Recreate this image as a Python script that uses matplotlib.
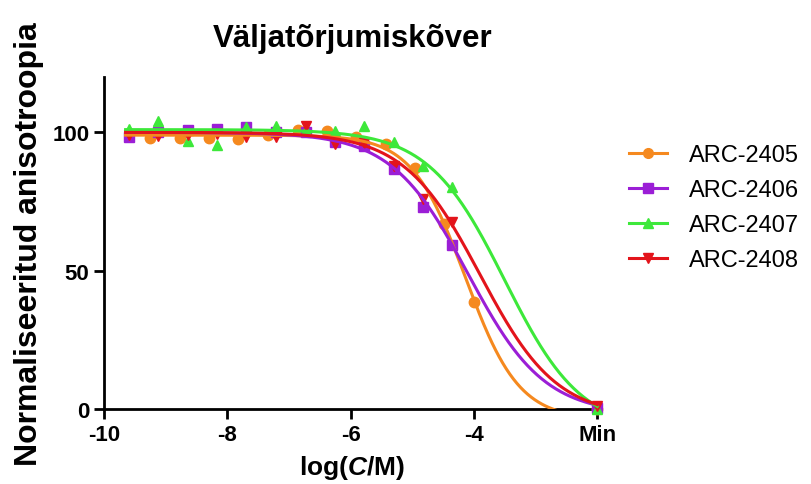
import numpy as np
import matplotlib
matplotlib.use('Agg')
import matplotlib.pyplot as plt

plt.rcParams['font.family'] = ['Liberation Sans', 'DejaVu Sans']
plt.rcParams['mathtext.fontset'] = 'custom'
plt.rcParams['mathtext.rm'] = 'Liberation Sans:bold'
plt.rcParams['mathtext.it'] = 'Liberation Sans:italic:bold'

# concentrations, log(C/M); the last point is the "Min" (no ligand) sample
x_orange = [-9.25, -8.77, -8.29, -7.82, -7.34, -6.86, -6.39, -5.91, -5.43, -4.95, -4.48, -4.00, -2.0]
x_other = [-9.59, -9.12, -8.64, -8.16, -7.69, -7.21, -6.73, -6.25, -5.78, -5.30, -4.83, -4.35, -2.0]

y_2405 = [97.8, 97.8, 97.8, 97.6, 99.0, 100.8, 100.6, 98.5, 95.8, 87.0, 67.0, 38.8, 0.0]
y_2406 = [98.4, 100.0, 100.8, 101.2, 101.8, 100.0, 100.1, 96.5, 95.2, 86.7, 72.9, 59.3, 0.5]
y_2407 = [101.2, 104.0, 96.7, 95.5, 102.0, 102.4, 101.0, 100.5, 102.4, 96.4, 87.7, 80.1, 0.0]
y_2408 = [99.1, 98.8, 99.1, 99.4, 98.2, 98.4, 102.4, 95.8, 96.0, 88.0, 75.9, 67.5, 1.0]

# fitted curve parameters: top, bottom, logIC50, hill slope
fit_2405 = (99, -3.8, -4.14, 1.0)
fit_2406 = (100, -2, -4.10, 0.7)
fit_2407 = (101, -8, -3.50, 0.7)
fit_2408 = (100, -3, -3.90, 0.7)

labels = ['ARC-2405', 'ARC-2406', 'ARC-2407', 'ARC-2408']
colors = ['#F5891F', '#9B1ED6', '#3DE83A', '#E3141B']
markers = ['o', 's', '^', 'v']

def curve(x, p):
    top, bottom, ic50, hill = p
    return bottom + (top - bottom) / (1 + 10 ** (hill * (x - ic50)))

fig = plt.figure(figsize=(8.12, 4.85), dpi=100)
ax = fig.add_axes([0.1281, 0.1546, 0.6113, 0.6845])

xs = [x_orange, x_other, x_other, x_other]
ys = [y_2405, y_2406, y_2407, y_2408]
fits = [fit_2405, fit_2406, fit_2407, fit_2408]
xc = np.linspace(-9.65, -2.0, 400)

for i in range(4):
    ax.plot(xs[i], ys[i], linestyle='none', marker=markers[i], color=colors[i],
            markersize=7.5, clip_on=False, zorder=3)
    ax.plot(xc, curve(xc, fits[i]), color=colors[i], lw=2.2, zorder=4)
    ax.plot([], [], color=colors[i], lw=2.2, marker=markers[i], markersize=7, label=labels[i])

ax.set_xlim(-10, -1.95)
ax.set_ylim(0, 120)
ax.set_xticks([-10, -8, -6, -4, -2])
ax.set_xticklabels(['-10', '-8', '-6', '-4', 'Min'])
ax.set_yticks([0, 50, 100])
ax.tick_params(width=2, length=7, labelsize=16)
for t in ax.get_xticklabels() + ax.get_yticklabels():
    t.set_fontweight('bold')
for s in ['top', 'right']:
    ax.spines[s].set_visible(False)
for s in ['left', 'bottom']:
    ax.spines[s].set_linewidth(2)

ax.set_title('Väljatõrjumiskõver', fontsize=22.5, fontweight='bold', pad=22)
ax.set_ylabel('Normaliseeritud anisotroopia', fontsize=23, fontweight='bold', labelpad=6)
ax.set_xlabel(r'log($\mathit{C}$/M)', fontsize=19, fontweight='bold', labelpad=6)

fig.legend(loc='upper left', bbox_to_anchor=(0.749, 0.745), frameon=False, fontsize=17,
           handlelength=1.6, handletextpad=0.9, labelspacing=0.55)

fig.savefig('out.png', dpi=100)
